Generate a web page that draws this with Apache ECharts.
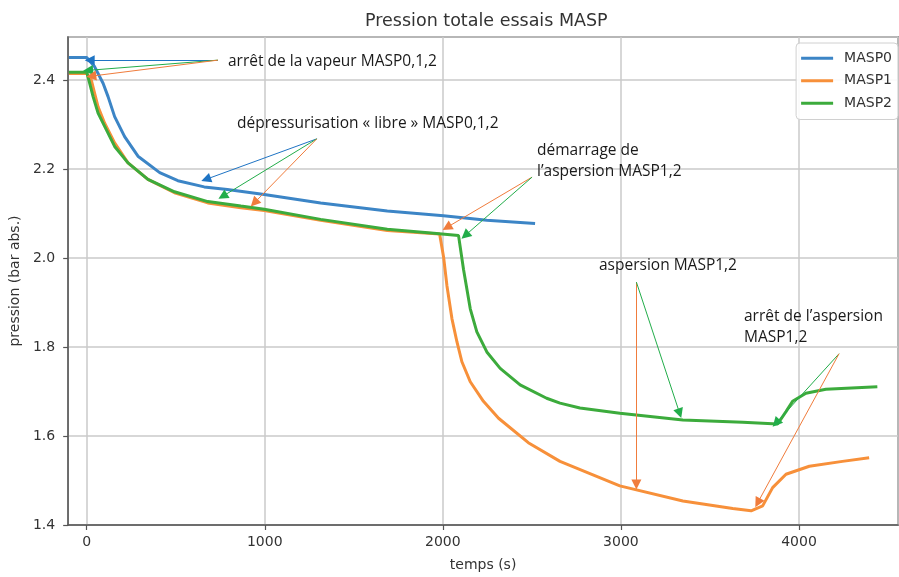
<!DOCTYPE html>
<html>
<head>
<meta charset="utf-8">
<script src="https://cdn.jsdelivr.net/npm/echarts@6/dist/echarts.min.js"></script>
<style>
  html, body { margin: 0; padding: 0; background: #fff; }
  #chart { width: 899px; height: 577px; }
</style>
</head>
<body>
<div id="chart"></div>
<script>
// temps (s) et pression (bar abs.)
const masp0Time = [-100, 0, 45, 92, 120, 157, 213, 288, 410, 512, 660, 790, 997, 1314, 1688, 2004, 2247, 2518];
const masp0Pres = [2.451, 2.451, 2.430, 2.393, 2.363, 2.318, 2.273, 2.229, 2.192, 2.174, 2.160, 2.154, 2.143, 2.124, 2.106, 2.095, 2.085, 2.078];

const masp1Time = [-100, 0, 26, 45, 64, 101, 157, 232, 344, 493, 680, 866, 997, 1314, 1688, 1982, 2005, 2023, 2051, 2079, 2107, 2154, 2228, 2313, 2480, 2658, 2994, 3348, 3628, 3731, 3796, 3852, 3927, 4058, 4244, 4394];
const masp1Pres = [2.415, 2.415, 2.400, 2.370, 2.340, 2.303, 2.259, 2.214, 2.177, 2.147, 2.124, 2.113, 2.107, 2.085, 2.062, 2.054, 2.000, 1.938, 1.864, 1.812, 1.767, 1.722, 1.678, 1.640, 1.585, 1.543, 1.488, 1.454, 1.437, 1.432, 1.443, 1.484, 1.514, 1.532, 1.543, 1.551];

const masp2Time = [-100, 0, 17, 36, 64, 101, 157, 232, 344, 493, 680, 866, 997, 1314, 1688, 1949, 2088, 2116, 2154, 2191, 2247, 2322, 2434, 2583, 2658, 2770, 2994, 3348, 3684, 3880, 3927, 3964, 4039, 4151, 4440];
const masp2Pres = [2.418, 2.418, 2.393, 2.363, 2.326, 2.296, 2.251, 2.214, 2.177, 2.149, 2.127, 2.117, 2.110, 2.087, 2.065, 2.056, 2.051, 1.975, 1.886, 1.834, 1.789, 1.752, 1.715, 1.685, 1.674, 1.663, 1.651, 1.636, 1.631, 1.627, 1.655, 1.678, 1.696, 1.705, 1.711];

const seriesNames = ["MASP0", "MASP1", "MASP2"];

// flèches d'annotation : départ, arrivée (temps, pression), couleur 0/1/2
const arrowStart = [[737, 2.445], [737, 2.445], [737, 2.445], [1292, 2.268], [1292, 2.268], [1292, 2.268], [2501, 2.182], [2501, 2.182], [3087, 1.946], [3087, 1.946], [4225, 1.785], [4225, 1.785]];
const arrowEnd = [[17, 2.445], [8, 2.422], [26, 2.409], [670, 2.177], [764, 2.139], [941, 2.124], [2023, 2.069], [2126, 2.051], [3087, 1.491], [3330, 1.651], [3871, 1.629], [3768, 1.450]];
const arrowSeries = [0, 2, 1, 0, 2, 1, 1, 2, 1, 2, 2, 1];

const notes = [
  "arrêt de la vapeur MASP0,1,2",
  "dépressurisation « libre » MASP0,1,2",
  "démarrage de\nl’aspersion MASP1,2",
  "aspersion MASP1,2",
  "arrêt de l’aspersion\nMASP1,2"
];

const lineColors = ["#3c85c6", "#f7903a", "#3cab3c"];
const arrowColors = ["#1f74c4", "#f07c3c", "#22ad4a"];

function zip(t, p) {
  let out = [];
  for (let i = 0; i < t.length; i++) out.push([t[i], p[i]]);
  return out;
}

const curves = [zip(masp0Time, masp0Pres), zip(masp1Time, masp1Pres), zip(masp2Time, masp2Pres)];

let series = [];
for (let i = 0; i < 3; i++) {
  series.push({
    name: seriesNames[i],
    type: "line",
    symbol: "none",
    data: curves[i],
    lineStyle: { color: lineColors[i], width: 3 },
    itemStyle: { color: lineColors[i] },
    z: 3
  });
}

let arrows = [];
for (let i = 0; i < arrowStart.length; i++) {
  const st = { color: arrowColors[arrowSeries[i]], width: 1, type: "solid" };
  arrows.push([
    { coord: arrowStart[i], lineStyle: st, itemStyle: { color: st.color } },
    { coord: arrowEnd[i], lineStyle: st, itemStyle: { color: st.color } }
  ]);
}

series.push({
  name: "notes",
  type: "line",
  data: [],
  silent: true,
  z: 5,
  markLine: {
    silent: true,
    animation: false,
    symbol: ["none", "triangle"],
    symbolSize: 10,
    label: { show: false },
    data: arrows
  }
});

const noteFont = { fontFamily: "Open Sans", fontSize: 15.5, fill: "#1a1a1a" };
const notePos = [[228, 62], [237, 124], [537, 161], [599, 266], [744, 327]];
let graphics = [];
for (let i = 0; i < notes.length; i++) {
  graphics.push({
    type: "text",
    x: notePos[i][0],
    y: notePos[i][1],
    z: 10,
    style: Object.assign({ text: notes[i], verticalAlign: "middle", lineHeight: 21 }, noteFont)
  });
}

const axisFont = { fontFamily: "DejaVu Sans", fontSize: 14, color: "#333" };

const option = {
  animation: false,
  backgroundColor: "#fff",
  title: {
    text: "Pression totale essais MASP",
    left: 360,
    top: 7,
    textStyle: { fontFamily: "DejaVu Sans", fontSize: 17.5, fontWeight: "normal", color: "#333" }
  },
  legend: {
    data: seriesNames,
    orient: "vertical",
    right: 1,
    top: 43,
    padding: [7, 6, 8, 5],
    itemGap: 6,
    itemWidth: 32,
    itemHeight: 3,
    icon: "rect",
    backgroundColor: "rgba(255,255,255,0.9)",
    borderColor: "#d0d0d0",
    borderWidth: 1,
    borderRadius: 4,
    textStyle: { fontFamily: "DejaVu Sans", fontSize: 14, color: "#333", padding: [0, 0, 0, 6], lineHeight: 16.5 }
  },
  grid: {
    left: 67,
    right: 1,
    top: 37,
    bottom: 49,
    show: true,
    borderColor: "#555",
    borderWidth: 1.5
  },
  xAxis: {
    type: "value",
    min: -104,
    max: 4556,
    splitNumber: 5,
    name: "temps (s)",
    nameLocation: "middle",
    nameGap: 33,
    nameTextStyle: axisFont,
    axisLine: { show: true, onZero: false, lineStyle: { color: "#555", width: 1.5 } },
    axisTick: { show: true, length: 5, lineStyle: { color: "#555", width: 1.2 } },
    axisLabel: Object.assign({
      margin: 10,
      showMinLabel: false,
      showMaxLabel: false,
      formatter: function (v) { return String(v); }
    }, axisFont),
    splitLine: { show: true, lineStyle: { color: "#cacaca", width: 1.5 } }
  },
  yAxis: {
    type: "value",
    min: 1.4,
    max: 2.497,
    interval: 0.2,
    name: "pression (bar abs.)",
    nameLocation: "middle",
    nameGap: 37,
    nameTextStyle: axisFont,
    axisLine: { show: true, onZero: false, lineStyle: { color: "#555", width: 1.5 } },
    axisTick: { show: true, length: 5, lineStyle: { color: "#555", width: 1.2 } },
    axisLabel: Object.assign({
      margin: 13,
      showMaxLabel: false,
      formatter: function (v) { return v.toFixed(1); }
    }, axisFont),
    splitLine: { show: true, lineStyle: { color: "#cacaca", width: 1.5 } }
  },
  graphic: graphics,
  series: series
};

const chart = echarts.init(document.getElementById("chart"));
chart.setOption(option);
</script>
</body>
</html>
